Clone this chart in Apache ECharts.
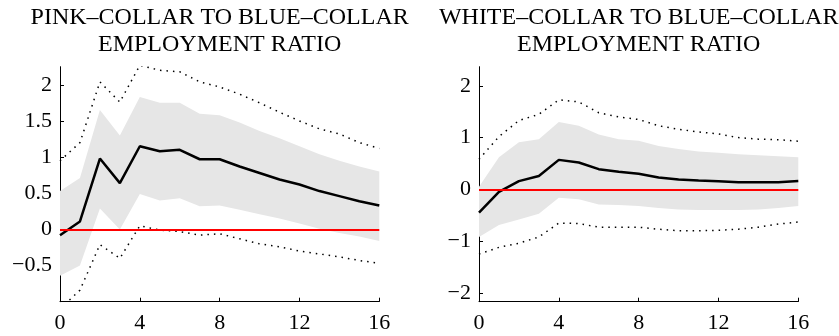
<!DOCTYPE html>
<html>
<head>
<meta charset="utf-8">
<script src="https://cdn.jsdelivr.net/npm/echarts@6/dist/echarts.min.js"></script>
<style>
  html, body { margin: 0; padding: 0; background: #ffffff; }
  #chart { width: 839px; height: 336px; }
</style>
</head>
<body>
<div id="chart"></div>
<script>
// Impulse responses over 16 quarters, with 68% band (shaded) and 90% band (dotted)
const horizons = [0, 1, 2, 3, 4, 5, 6, 7, 8, 9, 10, 11, 12, 13, 14, 15, 16];

// Pink-collar to blue-collar employment ratio
const pinkMean  = [-0.08, 0.11, 0.98, 0.64, 1.15, 1.08, 1.10, 0.97, 0.97, 0.87, 0.78, 0.69, 0.62, 0.53, 0.46, 0.39, 0.33];
const pinkHi68  = [0.53, 0.71, 1.65, 1.30, 1.83, 1.75, 1.75, 1.60, 1.58, 1.48, 1.36, 1.26, 1.15, 1.04, 0.95, 0.87, 0.80];
const pinkLo68  = [-0.64, -0.50, 0.29, 0.00, 0.49, 0.40, 0.43, 0.32, 0.33, 0.27, 0.21, 0.15, 0.08, 0.01, -0.05, -0.10, -0.16];
const pinkHi90  = [0.95, 1.20, 2.04, 1.76, 2.27, 2.20, 2.18, 2.04, 1.97, 1.87, 1.75, 1.62, 1.50, 1.39, 1.32, 1.20, 1.12];
const pinkLo90  = [-1.10, -0.84, -0.21, -0.40, 0.05, -0.01, -0.03, -0.08, -0.06, -0.13, -0.20, -0.24, -0.30, -0.34, -0.38, -0.43, -0.47];

// White-collar to blue-collar employment ratio
const whiteMean = [-0.45, -0.05, 0.16, 0.26, 0.57, 0.52, 0.39, 0.34, 0.30, 0.23, 0.19, 0.17, 0.155, 0.14, 0.14, 0.14, 0.16];
const whiteHi68 = [0.05, 0.62, 0.91, 0.97, 1.30, 1.23, 1.06, 0.97, 0.94, 0.84, 0.78, 0.73, 0.71, 0.68, 0.66, 0.64, 0.62];
const whiteLo68 = [-0.92, -0.69, -0.58, -0.47, -0.16, -0.19, -0.29, -0.30, -0.32, -0.36, -0.39, -0.40, -0.40, -0.40, -0.39, -0.36, -0.32];
const whiteHi90 = [0.58, 1.02, 1.33, 1.45, 1.73, 1.69, 1.48, 1.40, 1.35, 1.23, 1.16, 1.11, 1.07, 1.00, 0.97, 0.96, 0.93];
const whiteLo90 = [-1.25, -1.12, -1.04, -0.92, -0.65, -0.66, -0.73, -0.73, -0.73, -0.77, -0.80, -0.80, -0.79, -0.77, -0.73, -0.67, -0.63];

// Axis ticks
const xTicks      = [0, 4, 8, 12, 16];
const pinkYTicks  = [-0.5, 0, 0.5, 1, 1.5, 2];
const whiteYTicks = [-2, -1, 0, 1, 2];

const titles = [
  ['PINK\u2013COLLAR TO BLUE\u2013COLLAR', 'EMPLOYMENT RATIO'],
  ['WHITE\u2013COLLAR TO BLUE\u2013COLLAR', 'EMPLOYMENT RATIO']
];

const FONT = '"Liberation Serif", "Times New Roman", serif';
const grids = [
  { left: 60,  top: 66.7, width: 319.3, height: 235 },
  { left: 479, top: 66.7, width: 319.3, height: 235 }
];

const pair = (arr) => horizons.map((h, i) => [h, arr[i]]);
const fmt = (v) => String(v).replace('-', '\u2212');

function xAxisFor(idx) {
  return {
    gridIndex: idx, type: 'value', min: 0, max: 16, interval: 4,
    axisLine: { show: true, onZero: false, lineStyle: { color: '#000', width: 1 } },
    axisTick: { show: true, inside: true, length: 4, lineStyle: { color: '#000' }, customValues: xTicks },
    axisLabel: { color: '#000', fontFamily: FONT, fontSize: 22, margin: 11, customValues: xTicks, formatter: fmt },
    splitLine: { show: false }
  };
}
function yAxisFor(idx, min, max, ticks) {
  return {
    gridIndex: idx, type: 'value', min: min, max: max,
    axisLine: { show: true, onZero: false, lineStyle: { color: '#000', width: 1 } },
    axisTick: { show: true, inside: true, length: 4, lineStyle: { color: '#000' }, customValues: ticks },
    axisLabel: { color: '#000', fontFamily: FONT, fontSize: 22, margin: 8, customValues: ticks, formatter: fmt },
    splitLine: { show: false }
  };
}

// Shaded confidence band: one polygon running along the upper bound and back along the lower bound
function bandSeries(idx, hi, lo) {
  return {
    type: 'custom', xAxisIndex: idx, yAxisIndex: idx, silent: true, z: 1, clip: true,
    data: horizons.map((h, i) => [h, lo[i], hi[i]]),
    encode: { x: 0, y: [1, 2] },
    renderItem: function (params, api) {
      if (params.dataIndex !== 0) return null;
      const pts = [];
      for (let i = 0; i < horizons.length; i++) pts.push(api.coord([horizons[i], hi[i]]));
      for (let i = horizons.length - 1; i >= 0; i--) pts.push(api.coord([horizons[i], lo[i]]));
      return { type: 'polygon', shape: { points: pts }, style: { fill: '#e6e6e6', stroke: null } };
    }
  };
}

function panelSeries(idx, mean, hi68, lo68, hi90, lo90) {
  const base = { xAxisIndex: idx, yAxisIndex: idx, type: 'line', symbol: 'none', silent: true, animation: false };
  return [
    bandSeries(idx, hi68, lo68),
    Object.assign({}, base, { data: pair(hi90), lineStyle: { color: '#000', width: 1.5, type: [1.5, 5] }, z: 3 }),
    Object.assign({}, base, { data: pair(lo90), lineStyle: { color: '#000', width: 1.5, type: [1.5, 5] }, z: 3 }),
    Object.assign({}, base, { data: pair(mean), lineStyle: { color: '#000', width: 2.5 }, z: 4 }),
    Object.assign({}, base, { data: [],
      markLine: { silent: true, symbol: 'none', label: { show: false }, animation: false,
        lineStyle: { color: '#ff0000', width: 2, type: 'solid' },
        data: [{ yAxis: 0 }] }, z: 5 })
  ];
}

const graphicTitles = titles.map((lines, i) => ({
  type: 'text', x: grids[i].left + grids[i].width / 2, y: 4.5, silent: true,
  style: { text: lines.join('\n'), fill: '#000', font: '24px ' + FONT, lineHeight: 27,
    textAlign: 'center', textVerticalAlign: 'top' }
}));

const chart = echarts.init(document.getElementById('chart'), null, { renderer: 'canvas' });
chart.setOption({
  animation: false,
  backgroundColor: '#ffffff',
  grid: grids,
  xAxis: [xAxisFor(0), xAxisFor(1)],
  yAxis: [yAxisFor(0, -1, 2.25, pinkYTicks), yAxisFor(1, -2.17, 2.37, whiteYTicks)],
  graphic: graphicTitles,
  series: [].concat(
    panelSeries(0, pinkMean, pinkHi68, pinkLo68, pinkHi90, pinkLo90),
    panelSeries(1, whiteMean, whiteHi68, whiteLo68, whiteHi90, whiteLo90)
  )
});
</script>
</body>
</html>
